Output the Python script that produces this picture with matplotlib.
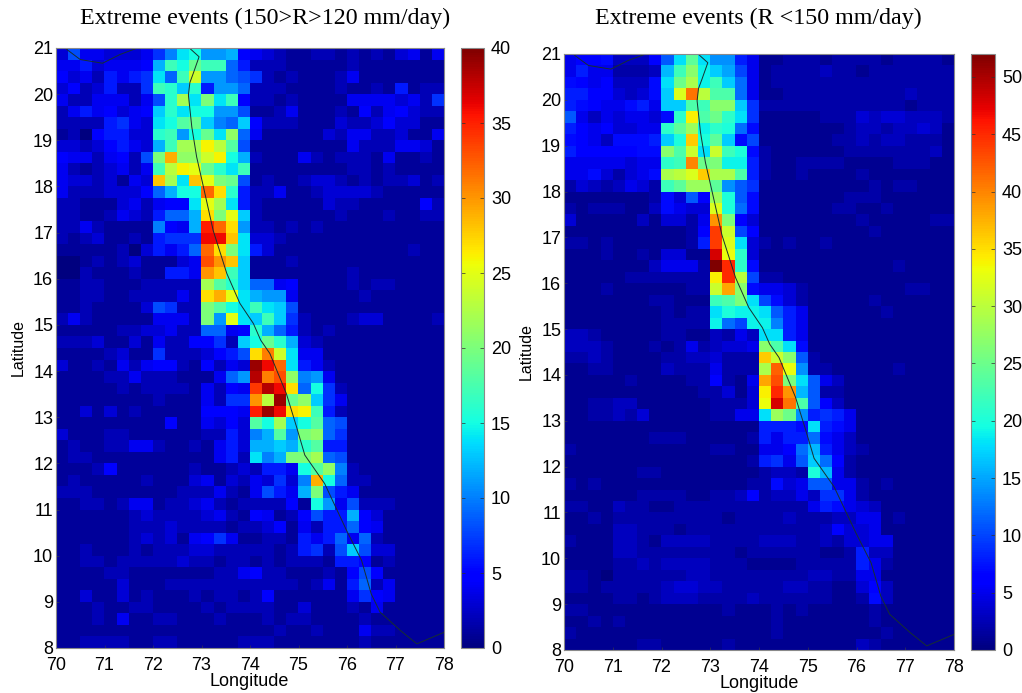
import numpy as np
import matplotlib
matplotlib.use("Agg")
import matplotlib.pyplot as plt

W, H = 1022, 693
plt.rcParams['font.family'] = ['Liberation Sans', 'DejaVu Sans']

titles = ["Extreme events (150>R>120 mm/day)", "Extreme events (R <150 mm/day)"]
x_ticks = [70, 71, 72, 73, 74, 75, 76, 77, 78]
y_ticks = [8, 9, 10, 11, 12, 13, 14, 15, 16, 17, 18, 19, 20, 21]
cbar_left_ticks = [0, 5, 10, 15, 20, 25, 30, 35, 40]
cbar_right_ticks = [0, 5, 10, 15, 20, 25, 30, 35, 40, 45, 50]

coast_main_lon = [72.75, 72.95, 72.83, 72.76, 72.73, 72.8, 72.9, 73.04, 73.24, 73.52, 73.79, 74.07, 74.22, 74.41,
                  74.75, 74.96, 75.13, 75.54, 75.99, 76.3, 76.5, 76.68, 77.1, 77.44, 78.0]
coast_main_lat = [21.0, 20.81, 20.45, 20.25, 19.98, 19.29, 18.64, 17.99, 17.05, 16.12, 15.47, 15.03, 14.67, 14.38,
                  13.51, 12.79, 12.18, 11.56, 10.55, 9.9, 9.17, 8.78, 8.38, 8.09, 8.34]
coast_gulf_lon = [70.22, 70.5, 70.96, 71.32, 71.68]
coast_gulf_lat = [20.97, 20.75, 20.67, 20.86, 21.0]

left_counts = [
[3,8,4,4,3,3,3,4,7,10,14,15,11,11,12,5,4,3,2,1,1,2,2,1,2,1,2,1,3,4,1,4],
[4,4,6,3,4,4,4,5,12,17,15,19,17,17,9,6,2,2,2,1,1,1,1,1,2,1,1,1,1,1,1,1],
[5,3,4,2,6,4,6,7,14,9,17,24,11,11,9,8,7,2,1,2,1,1,1,2,4,1,1,1,1,1,1,1],
[3,5,2,3,6,2,2,7,17,16,13,16,6,11,11,9,2,2,2,1,1,1,1,2,1,1,2,1,6,1,2,2],
[4,2,2,4,4,4,2,4,8,16,22,14,20,14,17,5,2,2,1,2,1,1,1,1,4,4,4,4,3,4,2,7],
[2,4,6,4,5,3,4,5,13,16,14,15,15,11,11,8,1,1,2,4,1,1,1,2,1,5,2,4,5,3,2,2],
[2,2,2,2,6,7,4,3,14,15,18,19,13,10,9,13,5,2,2,2,1,1,1,3,2,2,3,5,3,3,1,1],
[1,2,0,5,6,6,3,3,16,17,11,15,19,14,21,9,4,1,1,1,1,1,3,2,4,4,2,2,3,1,1,4],
[3,3,2,3,5,6,4,3,12,17,22,22,26,23,18,8,1,1,1,1,1,1,1,1,4,2,2,2,4,4,3,1],
[5,4,4,2,4,5,2,8,20,29,21,21,24,26,15,12,2,1,1,1,4,2,1,2,2,2,1,4,1,1,2,1],
[4,2,1,2,3,4,2,4,17,23,26,25,19,16,14,17,1,1,1,1,1,1,1,1,2,2,1,2,1,1,1,1],
[4,3,3,2,3,1,4,3,28,22,14,28,25,20,19,8,1,2,1,1,2,3,3,2,1,2,1,2,2,3,1,2],
[4,2,2,2,3,3,3,5,9,12,15,15,32,27,16,6,2,2,4,1,1,2,3,3,3,3,2,1,1,1,1,1],
[2,2,1,1,1,3,4,2,4,5,5,14,25,22,14,6,2,1,1,1,1,1,3,2,2,1,1,1,1,1,5,2],
[2,2,1,1,2,4,3,2,6,9,9,12,27,20,25,13,2,1,1,1,1,1,1,2,1,1,1,2,1,1,2,2],
[2,2,4,2,1,1,1,1,10,5,4,12,35,32,27,11,2,2,1,2,1,2,1,1,1,1,1,1,1,1,1,1],
[2,1,2,3,1,1,2,1,6,7,7,7,36,36,28,14,3,3,2,1,1,1,1,1,1,1,1,1,1,1,1,1],
[1,1,1,1,1,2,0,3,6,4,6,9,32,27,20,14,6,3,1,1,1,1,1,1,1,1,1,1,1,2,1,1],
[0,0,1,2,1,2,3,1,1,1,3,4,33,30,28,13,1,1,1,2,1,1,1,1,1,1,1,1,1,1,1,1],
[0,0,2,1,1,1,2,1,1,6,6,4,30,28,17,13,1,1,1,1,1,1,1,1,2,1,1,1,1,1,1,1],
[1,1,2,2,1,1,1,2,2,2,2,2,22,18,16,13,9,9,4,5,1,1,1,1,2,1,2,2,1,1,1,1],
[1,1,2,2,1,1,2,2,2,2,4,2,27,29,25,14,12,11,11,4,1,1,1,1,1,2,1,1,1,1,1,1],
[1,1,2,1,1,1,1,3,8,7,2,2,20,18,15,14,17,14,13,8,1,1,1,1,1,1,1,1,1,1,1,1],
[2,4,2,1,1,1,1,1,4,4,4,2,20,11,25,14,13,17,13,7,2,1,1,1,2,3,3,1,1,1,1,2],
[1,1,1,1,1,2,2,3,3,4,2,2,9,9,4,5,16,12,9,6,2,1,2,1,1,1,1,1,1,1,1,1],
[2,2,2,3,1,1,3,1,4,2,2,5,5,7,2,13,15,19,16,12,3,2,1,1,1,1,1,1,1,1,1,1],
[1,1,1,1,2,3,1,1,7,2,2,2,3,5,6,8,27,31,24,14,4,4,1,1,1,1,1,1,1,1,1,1],
[3,1,1,2,1,4,2,4,5,5,2,1,5,2,4,3,39,36,32,14,6,4,2,1,1,1,1,1,1,1,1,1],
[1,1,1,1,2,2,4,2,2,2,1,1,1,4,9,11,38,31,33,21,10,11,4,1,1,1,1,1,1,1,1,1],
[1,1,1,1,1,2,1,2,2,2,2,1,4,2,5,4,34,38,36,27,9,15,7,2,1,1,1,1,1,1,1,1],
[1,1,1,1,1,1,1,1,2,1,1,1,4,2,7,7,30,23,39,19,21,13,7,4,1,1,1,1,1,1,1,1],
[1,1,3,1,3,1,2,1,1,1,1,1,5,5,5,4,35,39,36,27,26,17,6,2,1,1,1,1,1,1,1,1],
[1,1,1,1,1,1,1,1,1,5,1,1,4,3,5,3,18,15,22,13,15,18,9,8,1,1,1,1,1,1,1,1],
[3,1,1,1,2,2,1,1,1,1,1,1,2,2,6,3,10,12,18,11,20,21,9,7,1,1,1,1,1,1,1,1],
[1,2,1,1,2,2,4,4,2,1,1,2,1,4,6,3,12,12,13,12,16,18,6,6,1,1,1,1,1,1,1,1],
[1,2,2,1,1,1,1,1,1,1,1,1,1,4,6,2,14,10,12,20,20,22,9,8,1,1,1,1,1,1,1,1],
[1,1,1,2,5,1,1,1,1,1,1,2,1,1,2,3,2,6,6,4,15,18,21,10,2,1,1,1,1,1,1,1],
[1,2,1,1,1,1,1,2,1,1,1,3,4,1,3,2,4,3,7,3,10,29,15,9,2,2,1,1,1,1,1,1],
[2,2,2,1,1,1,1,1,1,1,2,2,2,4,2,1,4,8,6,4,12,20,8,6,4,1,1,1,1,1,1,1],
[1,1,2,2,1,2,4,4,1,2,2,3,4,2,1,2,2,2,2,5,1,15,11,4,8,2,2,2,1,1,1,1],
[1,1,1,1,1,1,2,3,2,2,2,2,3,4,2,1,5,4,1,2,5,8,6,6,12,5,3,1,1,1,1,1],
[1,1,1,1,1,1,2,2,2,3,2,2,2,2,1,2,2,3,5,1,4,2,6,6,9,5,4,1,1,1,1,1],
[1,1,1,1,1,1,2,3,2,3,1,4,5,7,4,1,1,2,2,1,6,4,6,9,4,9,2,1,1,1,1,1],
[1,1,2,1,1,1,2,1,2,2,2,3,3,2,2,2,2,2,1,2,6,7,2,8,13,8,3,3,1,1,1,1],
[1,1,2,2,1,2,2,2,2,2,3,2,2,1,2,2,1,2,1,2,2,2,1,6,6,5,1,2,1,1,1,1],
[1,1,1,1,2,2,1,1,1,1,1,1,1,2,2,4,5,2,2,1,1,1,2,1,5,8,5,1,1,1,1,1],
[1,1,1,1,1,3,1,1,1,2,2,2,2,2,2,2,2,2,2,2,1,2,4,1,6,9,2,4,1,1,1,1],
[1,1,3,1,1,3,1,2,1,1,1,2,1,2,2,1,2,5,1,1,1,1,1,1,4,7,5,4,1,1,1,1],
[1,1,1,2,1,1,2,2,1,1,1,1,2,1,2,2,2,2,1,1,3,1,1,1,2,1,4,1,1,1,1,1],
[1,1,1,2,1,4,1,1,2,2,1,1,1,2,1,1,1,2,1,2,2,1,1,1,1,2,1,1,1,1,1,1],
[1,1,1,1,1,1,1,1,1,1,1,1,1,1,1,1,1,1,2,1,1,2,1,1,1,4,2,2,1,1,1,1],
[1,1,2,2,2,2,1,1,2,2,1,1,1,1,1,2,2,2,1,1,1,1,1,1,1,2,1,1,1,1,1,1],
]

right_counts = [
[5,6,6,7,3,3,3,6,11,18,24,18,14,14,8,5,1,1,2,2,2,1,2,2,2,2,1,2,2,2,2,1],
[5,8,5,5,2,2,2,3,16,22,27,19,17,15,10,5,1,2,2,2,2,3,2,2,1,2,2,2,2,2,2,2],
[7,6,5,6,3,3,3,7,18,25,29,19,22,17,12,5,1,2,2,2,2,2,2,2,2,2,2,2,2,2,2,2],
[8,8,6,6,4,3,4,7,17,32,41,30,23,23,12,5,1,1,2,2,2,2,2,2,2,2,2,2,3,2,2,2],
[8,7,6,5,5,7,8,5,17,17,23,22,27,27,17,9,2,2,2,2,2,2,2,2,2,2,2,2,1,2,2,2],
[11,5,3,5,4,5,5,4,7,21,34,23,25,21,18,9,1,1,1,1,1,2,2,2,4,3,4,4,3,3,3,2],
[8,6,5,6,4,4,5,5,21,24,28,19,21,20,12,7,1,1,1,1,1,1,1,2,3,3,2,3,3,4,3,1],
[7,6,5,3,7,7,7,8,17,20,36,20,24,17,7,10,1,1,1,1,1,1,2,2,3,2,3,3,2,2,2,1],
[8,6,6,6,6,6,7,7,27,23,31,18,31,22,20,7,2,1,1,1,1,1,1,2,2,2,2,2,2,2,3,1],
[5,5,5,5,5,4,5,5,21,22,40,25,26,19,19,8,2,1,1,2,2,2,2,1,1,1,1,2,2,2,1,1],
[5,5,7,4,2,4,5,7,29,30,32,36,29,29,23,8,2,1,1,2,1,1,1,1,2,1,1,1,1,1,1,1],
[2,4,3,2,3,5,4,2,22,24,28,28,24,14,11,9,1,1,1,1,1,1,1,1,1,2,1,2,2,1,1,1],
[1,1,1,1,1,1,1,2,7,4,11,6,28,20,11,7,1,1,1,1,1,1,1,2,2,2,1,1,1,1,1,1],
[2,1,2,2,2,1,1,3,7,5,4,4,32,20,12,7,1,1,1,1,1,1,2,2,1,1,2,1,1,1,1,1],
[4,1,1,1,1,1,3,1,4,4,2,5,39,26,6,4,1,1,1,1,1,1,1,1,2,1,1,1,1,1,2,2],
[1,1,1,1,1,1,1,1,1,1,2,6,44,31,10,6,1,1,1,1,1,1,1,1,1,2,1,1,1,1,1,1],
[2,2,1,2,1,1,1,1,1,1,2,8,44,32,18,4,2,1,2,1,1,2,1,1,1,1,1,1,1,1,1,1],
[1,1,1,2,1,1,2,1,4,4,1,1,48,33,21,4,1,1,1,1,1,1,1,1,1,1,1,1,1,1,1,1],
[1,1,1,1,1,1,1,3,5,5,5,2,52,45,21,7,1,1,1,1,1,1,1,1,1,1,1,2,1,1,1,1],
[1,1,1,1,1,2,2,2,2,2,2,2,34,45,30,10,2,2,1,1,1,1,1,1,1,1,1,1,1,1,1,1],
[1,1,1,2,1,1,1,1,1,1,2,2,31,38,27,7,5,5,4,2,1,1,1,1,1,1,1,1,2,2,1,1],
[1,1,1,1,1,1,1,2,2,1,1,1,22,23,26,18,10,7,4,2,1,1,1,1,1,2,1,1,1,1,1,1],
[1,1,1,1,1,1,1,1,2,1,2,2,18,20,19,19,18,11,8,5,1,1,1,1,1,1,2,1,1,1,1,1],
[1,1,1,1,1,1,1,1,2,2,2,2,19,12,10,19,19,13,8,5,1,1,1,1,1,1,1,1,1,1,1,1],
[3,3,2,1,1,1,1,1,2,2,1,1,3,2,5,3,18,18,8,5,1,1,1,1,1,1,1,1,1,1,1,1],
[3,3,3,2,1,1,1,2,1,2,5,2,3,4,4,5,27,23,18,7,1,1,1,1,1,1,1,1,1,1,1,1],
[2,2,3,2,1,1,1,1,2,2,3,3,4,2,2,2,36,31,27,11,2,1,1,1,1,1,1,1,1,1,1,1],
[1,1,2,2,1,1,1,1,3,2,2,2,5,2,2,2,29,42,33,14,2,2,1,1,1,1,1,2,1,1,1,1],
[1,1,1,1,1,2,1,1,1,1,2,2,6,2,1,5,38,43,26,18,11,5,3,1,1,1,1,1,1,1,1,1],
[1,1,1,1,1,1,1,1,1,1,1,2,2,4,1,4,34,45,39,16,11,2,2,1,1,1,1,1,1,1,1,1],
[1,1,2,2,3,3,1,1,1,1,1,1,2,2,2,4,33,48,41,23,11,6,3,1,1,1,1,1,1,1,1,1],
[1,1,2,2,3,2,4,1,1,1,1,1,2,2,5,5,18,28,25,14,8,9,8,5,1,1,1,1,1,1,1,1],
[1,1,1,1,1,1,1,1,1,1,1,1,1,1,1,1,8,8,8,7,18,8,7,5,1,1,1,1,1,1,1,1],
[1,1,1,1,1,1,1,2,2,2,1,1,1,1,1,2,8,5,8,8,12,7,5,3,1,1,1,1,1,1,1,1],
[2,1,1,1,1,1,1,1,1,1,1,1,2,2,1,1,5,5,6,12,16,8,5,3,2,1,1,1,1,1,1,1],
[1,1,1,1,1,1,1,1,1,1,1,1,1,1,1,2,8,9,5,11,17,12,6,2,1,1,1,1,1,1,1,1],
[1,1,1,1,1,1,2,2,1,1,1,1,1,1,1,1,2,3,3,2,20,16,5,2,1,1,1,1,1,1,1,1],
[2,1,2,1,1,1,1,1,1,1,1,1,1,1,1,2,2,7,4,5,11,11,5,5,2,1,2,1,1,1,1,1],
[1,1,1,1,1,1,2,2,2,2,1,1,2,2,3,6,2,3,3,5,3,9,9,5,2,1,1,1,1,1,1,1],
[2,2,1,1,3,2,2,1,1,2,2,2,2,2,2,2,2,2,2,2,5,8,7,5,4,3,1,1,1,1,1,1],
[1,1,2,1,2,2,2,2,2,2,2,2,2,1,2,2,2,2,3,2,2,2,3,3,5,5,1,2,1,1,1,1],
[1,1,1,1,3,3,2,2,2,1,2,2,2,2,2,2,2,2,2,2,2,3,6,4,4,5,1,1,1,1,1,1],
[2,1,1,1,3,3,2,1,3,3,3,3,2,2,2,2,3,3,3,2,2,3,2,4,4,5,5,1,1,1,1,1],
[1,1,1,1,3,3,2,2,2,2,2,2,2,2,1,2,2,2,2,2,2,1,1,2,8,3,3,1,1,1,1,1],
[1,1,1,1,2,2,3,2,3,3,3,3,2,2,2,1,1,1,1,2,2,2,2,2,8,5,2,1,1,1,1,1],
[2,2,1,0,2,2,2,2,2,2,3,3,2,2,2,2,2,2,2,2,3,3,2,2,5,5,1,1,1,1,1,1],
[2,2,1,2,2,2,2,2,3,4,4,3,3,2,2,2,2,2,3,3,2,2,1,1,4,6,3,1,1,1,1,1],
[1,1,1,1,2,2,1,2,3,3,3,2,2,2,2,3,2,2,2,2,2,2,1,1,2,7,3,1,1,1,1,1],
[2,2,1,1,1,1,1,1,1,1,1,1,1,2,1,1,1,2,1,2,1,1,1,1,1,2,1,1,1,1,1,1],
[1,1,2,1,2,1,1,1,1,1,1,1,1,1,1,1,1,2,1,1,1,1,1,1,1,2,1,1,1,1,1,1],
[2,1,1,1,1,1,1,1,1,1,1,1,1,1,1,1,1,2,1,1,1,1,1,1,1,1,2,1,1,1,1,1],
[1,1,1,1,1,1,2,2,1,1,1,1,1,2,1,1,1,1,1,1,1,1,1,1,3,2,1,1,1,1,1,1],
]

def px_axes(fig, x0, y0, x1, y1):
    return fig.add_axes([x0 / W, 1 - y1 / H, (x1 - x0) / W, (y1 - y0) / H])

fig = plt.figure(figsize=(W / 100, H / 100), dpi=100, facecolor='white')

panels = [
    (left_counts, 40, cbar_left_ticks, (56, 48, 444, 648), (461, 48, 484, 648), 265, 18.5, titles[0], 18, 249, 681),
    (right_counts, 52, cbar_right_ticks, (564, 54, 954, 650), (971, 54, 995, 650), 758.5, 18.5, titles[1], 526, 759, 683),
]
for counts, vmax, cticks, box, cbox, tx, ty, title, ylx, xlx, xly in panels:
    ax = px_axes(fig, *box)
    im = ax.imshow(np.array(counts), cmap='jet', vmin=0, vmax=vmax, extent=[70, 78, 8, 21],
                   aspect='auto', interpolation='nearest', origin='upper')
    ax.plot(coast_main_lon, coast_main_lat, color='#183030', lw=0.7)
    ax.plot(coast_gulf_lon, coast_gulf_lat, color='#183030', lw=0.7)
    ax.set_xlim(70, 78)
    ax.set_ylim(8, 21)
    ax.set_xticks(x_ticks)
    ax.set_yticks(y_ticks)
    ax.tick_params(direction='in', length=2, width=0.4, labelsize=13, color='#404040')
    ax.tick_params(axis='x', pad=6.5)
    ax.tick_params(axis='y', pad=2)
    for s in ax.spines.values():
        s.set_linewidth(0.8)
        s.set_color('#8a8a8a')
    cax = px_axes(fig, *cbox)
    cb = fig.colorbar(im, cax=cax)
    cb.set_ticks(cticks)
    cax.tick_params(direction='in', length=3, width=0.5, labelsize=13, pad=5, left=True, right=True, color='#303030')
    cb.outline.set_linewidth(0.8)
    cb.outline.set_edgecolor('#8a8a8a')
    fig.text(tx / W, 1 - ty / H, title, family=['Liberation Serif'], fontsize=17.25, ha='center', va='center')
    fig.text(ylx / W, 1 - (box[1] + box[3]) / 2 / H, 'Latitude', fontsize=11.5, rotation=90, ha='center', va='center')
    fig.text(xlx / W, 1 - xly / H, 'Longitude', fontsize=13, ha='center', va='center')

fig.savefig('out.png', dpi=100)
